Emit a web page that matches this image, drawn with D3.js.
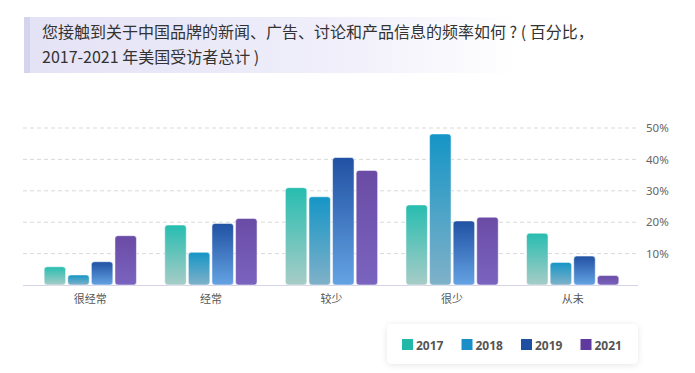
<!DOCTYPE html>
<html>
<head>
<meta charset="utf-8">
<script src="https://cdn.jsdelivr.net/npm/d3@7"></script>
<style>
  body { margin: 0; background: #fff; }
  svg { font-family: "Noto Sans CJK SC", "Noto Sans", sans-serif; }
</style>
</head>
<body>
<script>
const width = 695,
      height = 373

const categories = ['很经常', '经常', '较少', '很少', '从未']
const years = ['2017', '2018', '2019', '2021']
const v2017 = [5.8, 19.1, 31.0, 25.5, 16.5]
const v2018 = [3.2, 10.4, 28.1, 48.1, 7.2]
const v2019 = [7.4, 19.6, 40.6, 20.4, 9.2]
const v2021 = [15.7, 21.2, 36.5, 21.6, 3.0]
const yTicks = [10, 20, 30, 40, 50]

const seriesValues = [v2017, v2018, v2019, v2021]

// gradient stops, top -> bottom
const gradColors = [
    ['#27bdb0', '#a8ccc7'],
    ['#1595c6', '#80b1c8'],
    ['#2151a3', '#64a3e3'],
    ['#6a4ba5', '#7a64bf']
]
const legendColors = ['#22b8a8', '#1a8fc7', '#1f4fa3', '#5d3a9b']

const rows = []
categories.forEach((c, i) => {
    years.forEach((y, j) => {
        rows.push({cat: c, year: y, idx: j, value: seriesValues[j][i]})
    })
})

const svg = d3.select('body').append('svg')
    .attr('width', width)
    .attr('height', height)

const defs = svg.append('defs')

gradColors.forEach((g, i) => {
    const lg = defs.append('linearGradient')
        .attr('id', 'grad' + i)
        .attr('x1', 0).attr('y1', 0)
        .attr('x2', 0).attr('y2', 1)
    lg.append('stop').attr('offset', '0%').attr('stop-color', g[0])
    lg.append('stop').attr('offset', '100%').attr('stop-color', g[1])
})

// title box gradient
const tg = defs.append('linearGradient')
    .attr('id', 'titleGrad')
    .attr('x1', 0).attr('y1', 0).attr('x2', 1).attr('y2', 0)
tg.append('stop').attr('offset', '0%').attr('stop-color', '#e4e2f5')
tg.append('stop').attr('offset', '60%').attr('stop-color', '#efeefa')
tg.append('stop').attr('offset', '100%').attr('stop-color', '#ffffff')

const shadow = defs.append('filter')
    .attr('id', 'shadow')
    .attr('x', '-10%').attr('y', '-30%')
    .attr('width', '120%').attr('height', '160%')
shadow.append('feDropShadow')
    .attr('dx', 0).attr('dy', 1)
    .attr('stdDeviation', 3)
    .attr('flood-color', '#000')
    .attr('flood-opacity', 0.10)

// title
svg.append('rect')
    .attr('x', 30).attr('y', 17)
    .attr('width', 490).attr('height', 56)
    .attr('fill', 'url(#titleGrad)')
svg.append('rect')
    .attr('x', 24).attr('y', 17)
    .attr('width', 6).attr('height', 56)
    .attr('fill', '#d6d4ec')

const title = svg.append('text')
    .attr('x', 42)
    .attr('fill', '#333')
    .style('font-size', '16px')
title.append('tspan').attr('x', 42).attr('y', 38)
    .text('您接触到关于中国品牌的新闻、广告、讨论和产品信息的频率如何 ? ( 百分比，')
title.append('tspan').attr('x', 42).attr('y', 63)
    .text('2017-2021 年美国受访者总计 )')

// scales
const x = d3.scaleBand()
    .domain(categories)
    .range([30, 633])

const x1 = d3.scaleBand()
    .domain(years)
    .range([0, x.bandwidth()])
    .paddingInner(0.09)
    .paddingOuter(0.6)

const y = d3.scaleLinear()
    .domain([0, 50])
    .range([285, 128])

// grid
svg.append('g')
    .selectAll('line')
    .data(yTicks)
    .enter()
    .append('line')
        .attr('x1', 23).attr('x2', 638)
        .attr('y1', d => y(d)).attr('y2', d => y(d))
        .attr('stroke', '#d9d9d9')
        .attr('stroke-dasharray', '4,3')

svg.append('line')
    .attr('x1', 23).attr('x2', 638)
    .attr('y1', y(0) + 0.5).attr('y2', y(0) + 0.5)
    .attr('stroke', '#d6d3e6')

// right axis
const yAxis = svg.append('g')
    .attr('transform', 'translate(646,0)')
    .call(d3.axisRight(y).tickValues(yTicks).tickSize(0).tickFormat(d => d + '%'))
yAxis.select('.domain').remove()
yAxis.selectAll('text')
    .attr('x', 0)
    .attr('fill', '#666')
    .style('font-size', '11.5px')
    .style('font-family', '"Noto Sans", sans-serif')

// bars
svg.append('g')
    .selectAll('rect')
    .data(rows)
    .enter()
    .append('rect')
        .attr('x', d => x(d.cat) + x1(d.year))
        .attr('y', d => y(d.value))
        .attr('width', x1.bandwidth())
        .attr('height', d => y(0) - y(d.value))
        .attr('rx', 3)
        .attr('fill', d => 'url(#grad' + d.idx + ')')
        .attr('stroke', '#ffffff')
        .attr('stroke-opacity', 0.5)
        .attr('stroke-width', 1)

// category labels
svg.append('g')
    .selectAll('text')
    .data(categories)
    .enter()
    .append('text')
        .attr('x', d => x(d) + x.bandwidth() / 2)
        .attr('y', 303)
        .attr('text-anchor', 'middle')
        .attr('fill', '#555')
        .style('font-size', '11px')
        .text(d => d)

// legend
svg.append('rect')
    .attr('x', 387).attr('y', 324)
    .attr('width', 251).attr('height', 40)
    .attr('rx', 5)
    .attr('fill', '#fff')
    .attr('filter', 'url(#shadow)')

const legend = svg.append('g')
    .selectAll('g')
    .data(years)
    .enter()
    .append('g')
        .attr('transform', (d, i) => 'translate(' + (402 + i * 59.5) + ',339)')

legend.append('rect')
    .attr('width', 11).attr('height', 11)
    .attr('fill', (d, i) => legendColors[i])

legend.append('text')
    .attr('x', 14)
    .attr('y', 10.5)
    .attr('fill', '#555')
    .style('font-size', '12px')
    .style('font-weight', 'bold')
    .style('font-family', '"Open Sans", "Noto Sans", sans-serif')
    .text(d => d)
</script>
</body>
</html>
